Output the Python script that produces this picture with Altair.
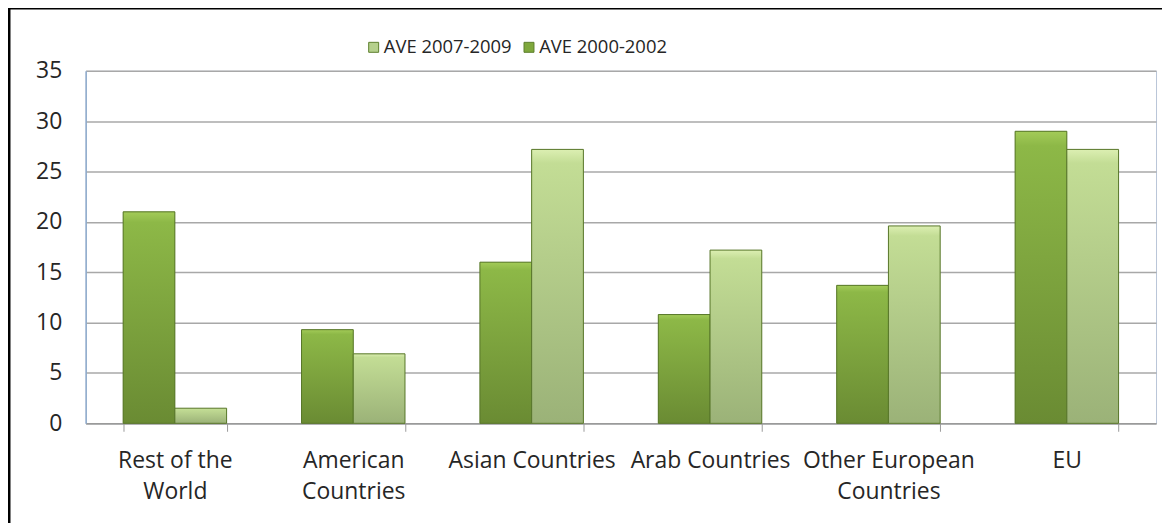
import altair as alt
import pandas as pd

categories = ["Rest of the World", "American Countries", "Asian Countries",
              "Arab Countries", "Other European Countries", "EU"]
label_lines = [["Rest of the", "World"], ["American", "Countries"], ["Asian Countries"],
               ["Arab Countries"], ["Other European", "Countries"], ["EU"]]
series_names = ["AVE 2000-2002", "AVE 2007-2009"]
ave_2000_2002 = [21.0, 9.3, 16.0, 10.8, 13.7, 29.0]
ave_2007_2009 = [1.5, 6.9, 27.2, 17.2, 19.6, 27.2]
y_ticks = [0, 5, 10, 15, 20, 25, 30, 35]

rows = []
for c, a, b in zip(categories, ave_2000_2002, ave_2007_2009):
    rows.append({"region": c, "series": series_names[0], "value": a})
    rows.append({"region": c, "series": series_names[1], "value": b})
df = pd.DataFrame(rows)

# label expression for multi-line category labels
parts = []
for c, lines in zip(categories, label_lines):
    arr = "[" + ",".join("'" + l + "'" for l in lines) + "]"
    parts.append(f"datum.label == '{c}' ? {arr} : ")
label_expr = "".join(parts) + "datum.label"

FONT = "Open Sans"
DARK = "#7fa83c"
LIGHT = "#b5d08c"
TXT = "#262626"

grad_dark = alt.LinearGradient(
    gradient="linear", x1=0, y1=0, x2=0, y2=1,
    stops=[alt.GradientStop(offset=0, color="#a3cb58"),
           alt.GradientStop(offset=0.05, color="#8db847"),
           alt.GradientStop(offset=1, color="#6a8b33")])
grad_light = alt.LinearGradient(
    gradient="linear", x1=0, y1=0, x2=0, y2=1,
    stops=[alt.GradientStop(offset=0, color="#dcefb2"),
           alt.GradientStop(offset=0.05, color="#c3dd95"),
           alt.GradientStop(offset=1, color="#9bb278")])

x_enc = alt.X("region:N", sort=categories, title=None,
              scale=alt.Scale(paddingInner=0.42, paddingOuter=0.21),
              axis=alt.Axis(labelAngle=0, labelExpr=label_expr, labelFont=FONT,
                            labelFontSize=23, labelColor=TXT, labelLineHeight=32,
                            labelPadding=18, tickBand="extent", tickSize=8,
                            tickColor="#9a9a9a", domainColor="#9a9a9a", domainWidth=1.5,
                            labelBaseline="top"))
y_enc = alt.Y("value:Q", title=None,
              scale=alt.Scale(domain=[0, 35], nice=False),
              axis=alt.Axis(values=y_ticks, ticks=False, labelFont=FONT, labelFontSize=23,
                            labelColor=TXT, labelPadding=24, gridColor="#a8a8a8",
                            gridWidth=1.5, domainColor="#8eaacc", domainWidth=1.5))
xoff = alt.XOffset("series:N", sort=series_names, scale=alt.Scale(domain=series_names))

base = alt.Chart(df).encode(x=x_enc, y=y_enc, xOffset=xoff)

bars_legend = base.mark_bar().encode(
    color=alt.Color("series:N",
                    scale=alt.Scale(domain=["AVE 2007-2009", "AVE 2000-2002"],
                                    range=[LIGHT, DARK]),
                    legend=alt.Legend(title=None, orient="none", direction="horizontal",
                                      legendX=280, legendY=-33, symbolType="square",
                                      symbolSize=100, labelFont=FONT, labelFontSize=18.5,
                                      labelColor=TXT, columnPadding=8,
                                      symbolStrokeColor="#5d7f2c", symbolStrokeWidth=1,
                                      labelOffset=1))
)

bars_grad = base.mark_bar(stroke="#587629", strokeWidth=1).encode(
    fill=alt.condition(alt.datum.series == "AVE 2000-2002",
                       alt.value(grad_dark), alt.value(grad_light))
)

frame = alt.Chart(pd.DataFrame({"k": [0]})).mark_rect(
    fill=None, stroke="black", strokeWidth=3, clip=False
).encode(x=alt.value(-77), x2=alt.value(1120), y=alt.value(-63), y2=alt.value(490))

chart = alt.layer(bars_legend, bars_grad, frame).properties(
    width=1075, height=354,
    padding={"left": 78, "top": 62, "right": 6, "bottom": 99},
    autosize=alt.AutoSizeParams(type="none"),
    background="white",
).configure_view(stroke="#b8c6d8", strokeWidth=1)

chart.save("out.html", embed_options={"renderer": "svg", "actions": False})
